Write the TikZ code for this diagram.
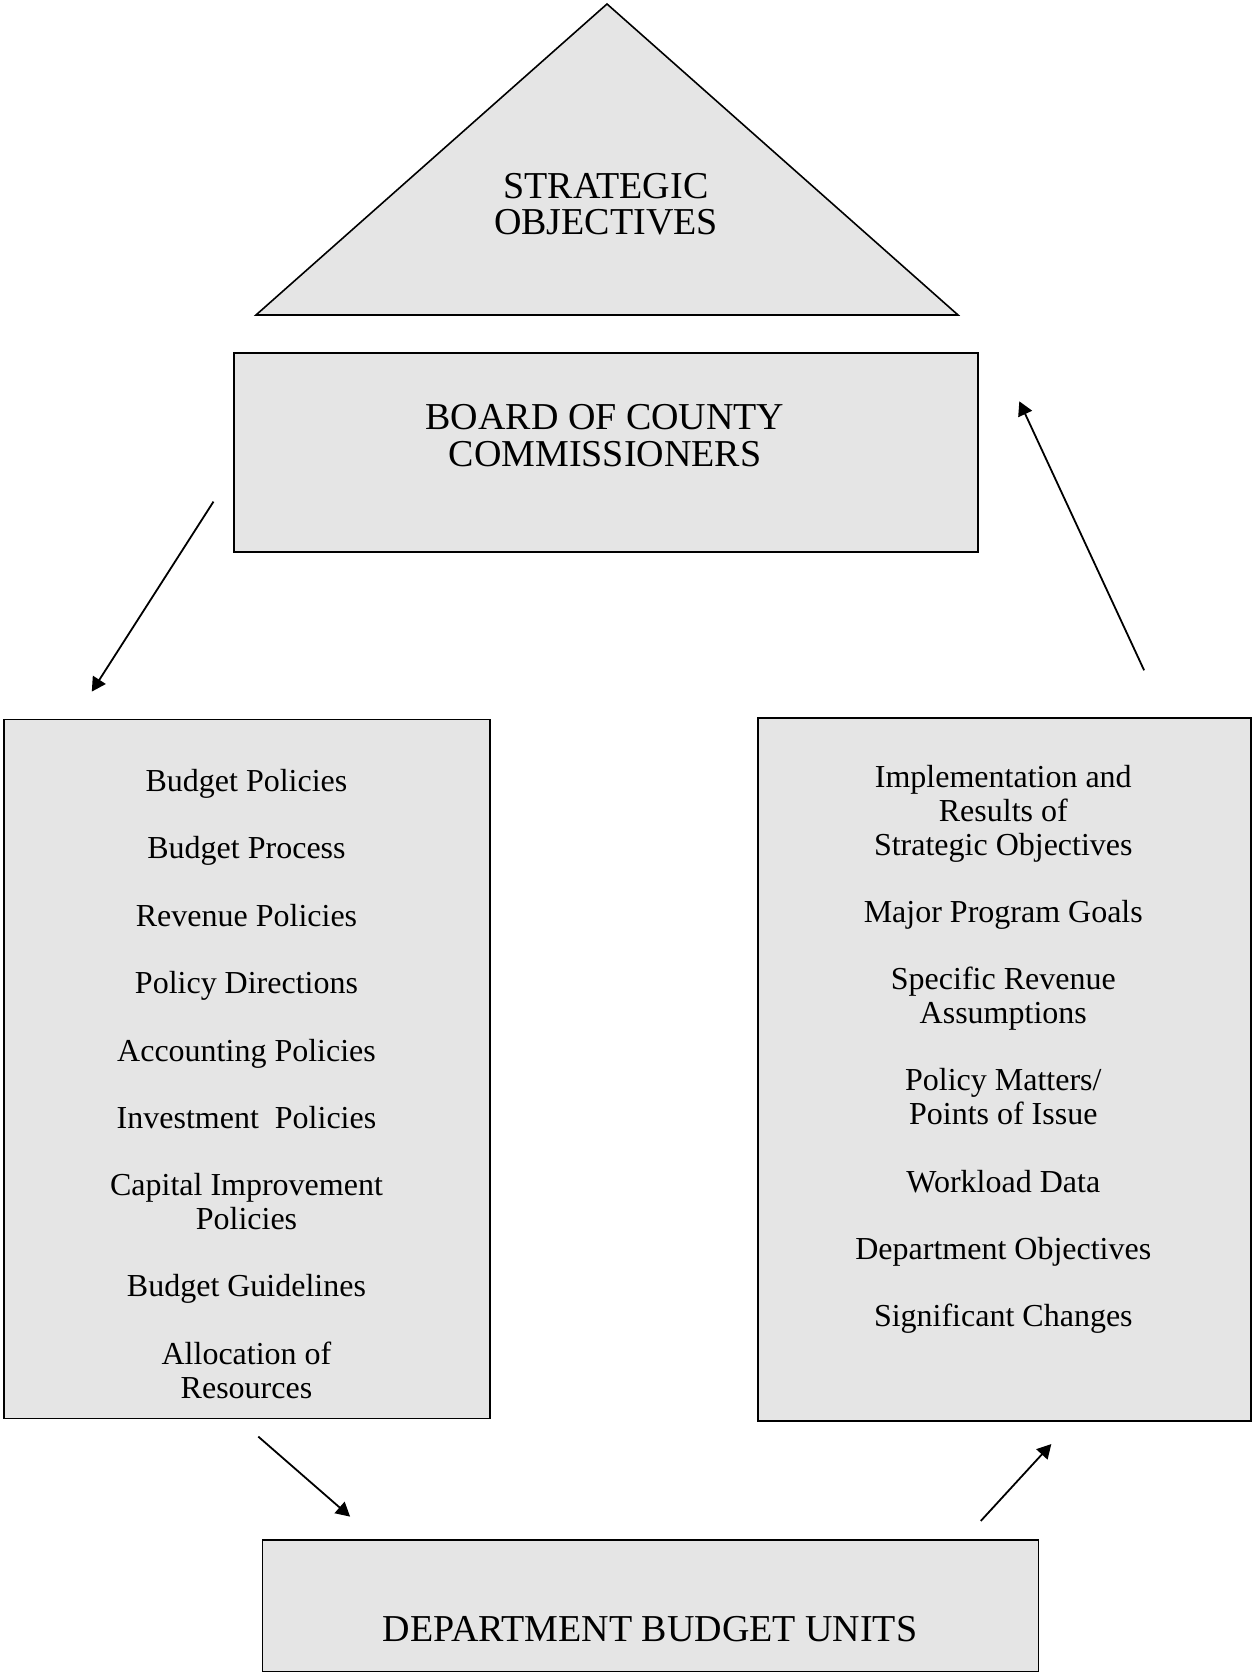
\documentclass[tikz,border=0pt]{standalone}
\usepackage{fontspec}
\setmainfont{Liberation Serif}
\usepackage{tikz}
\usetikzlibrary{arrows.meta,positioning}
\definecolor{boxgray}{gray}{0.9}

\begin{document}
\begin{tikzpicture}[
    x=0.5pt, y=-0.5pt,
    >={Triangle[length=7pt,width=7.5pt]},
    block/.style={
		rectangle,
		draw=black,
		line width=0.9pt,
		fill=boxgray,
		inner sep=0pt
	},
	title/.style={
		inner sep=0pt,
		align=center,
		font=\fontsize{19}{18.2}\selectfont
	},
	items/.style={
		inner sep=0pt,
		font=\fontsize{16}{16.85}\selectfont
	},
	link/.style={
		->,
		line width=0.9pt
	}
  ]
  \useasboundingbox (0,0) rectangle (1252,1673);

    % the triangle at the top
  \filldraw [fill=boxgray, line width=0.8pt, line join=miter] (607,4) -- (958,315) -- (256,315) -- cycle;
  \node [title] (strategic) at (606,204) {STRATEGIC\\OBJECTIVES};

    % the blocks
  \node [block, minimum width=372pt, minimum height=99.25pt] (board) at (605.7,452.5) {};
  \node [title] (boardtxt) at (605,435.8) {BOARD OF COUNTY\\COMMISSIONERS};

  \node [block, minimum width=242.8pt, minimum height=349.5pt] (policies) at (247.1,1068.9) {};
  \node [items] (policytxt) at (246.5,1088)
 {%
 \begin{tabular}{c}
  Budget Policies\\ \\
  Budget Process\\ \\
  Revenue Policies\\ \\
  Policy Directions\\ \\
  Accounting Policies\\ \\
  Investment\ \ Policies\\ \\
  Capital Improvement\\
  Policies\\ \\
  Budget Guidelines\\ \\
  Allocation of\\
  Resources
 \end{tabular}
 };

  \node [block, minimum width=246.55pt, minimum height=351.15pt] (results) at (1004.4,1069.5) {};
  \node [items] (resulttxt) at (1003.3,1050.5)
 {%
 \begin{tabular}{c}
  Implementation and\\
  Results of\\
  Strategic Objectives\\ \\
  Major Program Goals\\ \\
  Specific Revenue\\
  Assumptions\\ \\
  Policy Matters/\\
  Points of Issue\\ \\
  Workload Data\\ \\
  Department Objectives\\ \\
  Significant Changes
 \end{tabular}
 };

  \node [block, minimum width=388pt, minimum height=65.65pt] (units) at (650.5,1605.8) {};
  \node [title] (unittxt) at (650,1628.7) {DEPARTMENT BUDGET UNITS};

    % arrow ends
  \coordinate (boardout) at (213.5,501.6);
  \coordinate (policyin) at (91.8,691.6);
  \coordinate (policyout) at (258.3,1436.6);
  \coordinate (unitin) at (350.1,1516.6);
  \coordinate (unitout) at (980.8,1520.9);
  \coordinate (resultin) at (1051.3,1444.1);
  \coordinate (resultout) at (1144.1,670.3);
  \coordinate (boardin) at (1019.3,401.3);

  \draw [link] (boardout) -- (policyin);
  \draw [link] (policyout) -- (unitin);
  \draw [link] (unitout) -- (resultin);
  \draw [link] (resultout) -- (boardin);

\end{tikzpicture}
\end{document}
